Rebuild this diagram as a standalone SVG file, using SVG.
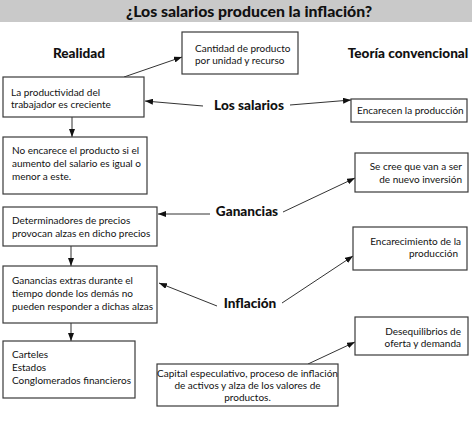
<svg xmlns="http://www.w3.org/2000/svg" width="472" height="423" viewBox="0 0 472 423">
  <style>
    .box { fill: #ffffff; stroke: #3a3a3a; stroke-width: 1.2; }
    .t { font-family: Lato, "Open Sans", "Liberation Sans", sans-serif; font-size: 10px; fill: #111; }
    .h { font-family: Lato, "Open Sans", "Liberation Sans", sans-serif; font-weight: 900; font-size: 13.6px; fill: #111; }
    .title { font-family: Lato, "Open Sans", "Liberation Sans", sans-serif; font-weight: 900; font-size: 15.8px; fill: #111; }
    .c { fill: none; stroke: #333; stroke-width: 1; marker-end: url(#arr); }
  </style>
  <defs>
    <marker id="arr" viewBox="0 0 8 6" refX="8" refY="3" markerWidth="8" markerHeight="6" markerUnits="userSpaceOnUse" orient="auto">
      <path d="M0,0 L8,3 L0,6 Z" fill="#111"/>
    </marker>
  </defs>
  <rect width="472" height="423" fill="#ffffff"/>
  <g id="title">
    <rect x="0" y="0" width="472" height="22" fill="#c9c9c9"/>
    <text class="title" x="249" y="17" text-anchor="middle">¿Los salarios producen la inflación?</text>
  </g>
  <g id="label-realidad"><text class="h" x="79" y="58" text-anchor="middle">Realidad</text></g>
  <g id="label-teoria"><text class="h" x="408" y="58" text-anchor="middle">Teoría convencional</text></g>
  <g id="label-salarios"><text class="h" x="249" y="110" text-anchor="middle">Los salarios</text></g>
  <g id="label-ganancias"><text class="h" x="247" y="216" text-anchor="middle">Ganancias</text></g>
  <g id="label-inflacion"><text class="h" x="250" y="308" text-anchor="middle">Inflación</text></g>

  <g id="connectors">
    <line class="c" x1="124" y1="77" x2="182" y2="57"/>
    <line class="c" x1="203" y1="106" x2="145" y2="101"/>
    <line class="c" x1="290" y1="105" x2="351" y2="100"/>
    <line class="c" x1="72" y1="117" x2="72" y2="137"/>
    <line class="c" x1="210" y1="214" x2="158" y2="214"/>
    <line class="c" x1="283" y1="212" x2="355" y2="178"/>
    <line class="c" x1="71" y1="246" x2="71" y2="266"/>
    <line class="c" x1="217" y1="306" x2="159" y2="283"/>
    <line class="c" x1="282" y1="303" x2="353" y2="256"/>
    <line class="c" x1="71" y1="323" x2="71" y2="341"/>
    <line class="c" x1="308" y1="364" x2="355" y2="342"/>
  </g>

  <g id="n-cantidad">
    <rect class="box" x="182" y="32" width="116" height="42"/>
    <text class="t" x="195" y="52">Cantidad de producto</text>
    <text class="t" x="195" y="64">por unidad y recurso</text>
  </g>
  <g id="n-productividad">
    <rect class="box" x="3" y="77" width="141" height="40"/>
    <text class="t" x="11" y="96">La productividad del</text>
    <text class="t" x="11" y="108">trabajador es creciente</text>
  </g>
  <g id="n-encarecen">
    <rect class="box" x="351" y="99" width="116" height="23"/>
    <text class="t" x="357" y="114">Encarecen la producción</text>
  </g>
  <g id="n-noencarece">
    <rect class="box" x="3" y="137" width="144" height="57"/>
    <text class="t" x="12" y="154">No encarece el producto si el</text>
    <text class="t" x="12" y="167">aumento del salario es igual o</text>
    <text class="t" x="12" y="180">menor a este.</text>
  </g>
  <g id="n-secree">
    <rect class="box" x="355" y="153" width="113" height="39"/>
    <text class="t" x="462" y="170" text-anchor="end">Se cree que van a ser</text>
    <text class="t" x="462" y="183" text-anchor="end">de nuevo inversión</text>
  </g>
  <g id="n-determinadores">
    <rect class="box" x="3" y="207" width="154" height="39"/>
    <text class="t" x="12" y="224">Determinadores de precios</text>
    <text class="t" x="12" y="237">provocan alzas en dicho precios</text>
  </g>
  <g id="n-encarecimiento">
    <rect class="box" x="353" y="227" width="114" height="43"/>
    <text class="t" x="461" y="245" text-anchor="end">Encarecimiento de la</text>
    <text class="t" x="458" y="257" text-anchor="end">producción</text>
  </g>
  <g id="n-ganancias-extras">
    <rect class="box" x="3" y="266" width="154" height="57"/>
    <text class="t" x="12" y="284">Ganancias extras durante el</text>
    <text class="t" x="12" y="297">tiempo donde los demás no</text>
    <text class="t" x="12" y="310">pueden responder a dichas alzas</text>
  </g>
  <g id="n-desequilibrios">
    <rect class="box" x="355" y="317" width="113" height="38"/>
    <text class="t" x="461" y="335" text-anchor="end">Desequilibrios de</text>
    <text class="t" x="461" y="347" text-anchor="end">oferta y demanda</text>
  </g>
  <g id="n-carteles">
    <rect class="box" x="3" y="341" width="132" height="57"/>
    <text class="t" x="12" y="358">Carteles</text>
    <text class="t" x="12" y="371">Estados</text>
    <text class="t" x="12" y="384">Conglomerados financieros</text>
  </g>
  <g id="n-capital">
    <rect class="box" x="157" y="364" width="181" height="42"/>
    <text class="t" x="247.5" y="377" text-anchor="middle">Capital especulativo, proceso de inflación</text>
    <text class="t" x="247.5" y="389" text-anchor="middle">de activos y alza de los valores de</text>
    <text class="t" x="247.5" y="401" text-anchor="middle">productos.</text>
  </g>
</svg>
